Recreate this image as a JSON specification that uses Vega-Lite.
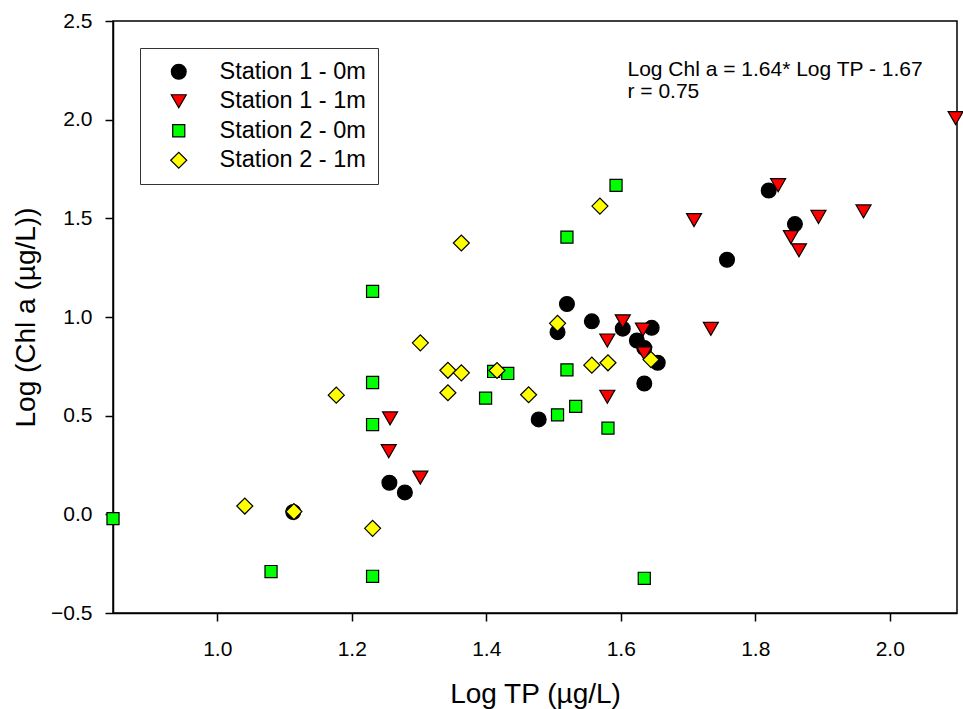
{
  "$schema": "https://vega.github.io/schema/vega-lite/v6.json",
  "width": 844,
  "height": 592,
  "autosize": {"type": "none"},
  "padding": {"left": 113, "top": 21, "right": 6, "bottom": 96},
  "background": "white",
  "config": {
    "font": "Liberation Sans",
    "view": {"stroke": "#000", "strokeWidth": 1.5},
    "axis": {
      "grid": false,
      "domainColor": "#000",
      "domainWidth": 1.5,
      "tickColor": "#000",
      "tickWidth": 1.5,
      "tickSize": 8,
      "labelColor": "#000",
      "titleColor": "#000",
      "labelFont": "Liberation Sans",
      "titleFont": "Liberation Sans",
      "labelFontSize": 21,
      "titleFontSize": 28,
      "titleFontWeight": "normal"
    },
    "legend": {
      "orient": "none",
      "legendX": 27,
      "legendY": 27,
      "padding": 12,
      "strokeColor": "#333",
      "fillColor": "white",
      "labelFont": "Liberation Sans",
      "labelFontSize": 23.5,
      "labelColor": "#000",
      "rowPadding": 4.5,
      "symbolOffset": 15,
      "labelOffset": 29,
      "symbolStrokeColor": "#000",
      "symbolStrokeWidth": 1.2,
      "symbolOpacity": 1
    }
  },
  "datasets": {
    "points": [
      {"station": "Station 1 - 0m", "logTP": 1.256, "logChl": 0.160},
      {"station": "Station 1 - 0m", "logTP": 1.279, "logChl": 0.111},
      {"station": "Station 1 - 0m", "logTP": 1.113, "logChl": 0.012},
      {"station": "Station 1 - 0m", "logTP": 1.478, "logChl": 0.481},
      {"station": "Station 1 - 0m", "logTP": 1.506, "logChl": 0.923},
      {"station": "Station 1 - 0m", "logTP": 1.520, "logChl": 1.066},
      {"station": "Station 1 - 0m", "logTP": 1.557, "logChl": 0.978},
      {"station": "Station 1 - 0m", "logTP": 1.603, "logChl": 0.941},
      {"station": "Station 1 - 0m", "logTP": 1.646, "logChl": 0.945},
      {"station": "Station 1 - 0m", "logTP": 1.624, "logChl": 0.881},
      {"station": "Station 1 - 0m", "logTP": 1.635, "logChl": 0.843},
      {"station": "Station 1 - 0m", "logTP": 1.655, "logChl": 0.768},
      {"station": "Station 1 - 0m", "logTP": 1.635, "logChl": 0.663},
      {"station": "Station 1 - 0m", "logTP": 1.758, "logChl": 1.290},
      {"station": "Station 1 - 0m", "logTP": 1.820, "logChl": 1.641},
      {"station": "Station 1 - 0m", "logTP": 1.859, "logChl": 1.471},
      {"station": "Station 1 - 1m", "logTP": 1.255, "logChl": 0.320},
      {"station": "Station 1 - 1m", "logTP": 1.257, "logChl": 0.486},
      {"station": "Station 1 - 1m", "logTP": 1.302, "logChl": 0.186},
      {"station": "Station 1 - 1m", "logTP": 1.580, "logChl": 0.881},
      {"station": "Station 1 - 1m", "logTP": 1.580, "logChl": 0.596},
      {"station": "Station 1 - 1m", "logTP": 1.603, "logChl": 0.978},
      {"station": "Station 1 - 1m", "logTP": 1.633, "logChl": 0.936},
      {"station": "Station 1 - 1m", "logTP": 1.635, "logChl": 0.815},
      {"station": "Station 1 - 1m", "logTP": 1.709, "logChl": 1.491},
      {"station": "Station 1 - 1m", "logTP": 1.734, "logChl": 0.940},
      {"station": "Station 1 - 1m", "logTP": 1.834, "logChl": 1.668},
      {"station": "Station 1 - 1m", "logTP": 1.853, "logChl": 1.405},
      {"station": "Station 1 - 1m", "logTP": 1.865, "logChl": 1.338},
      {"station": "Station 1 - 1m", "logTP": 1.894, "logChl": 1.507},
      {"station": "Station 1 - 1m", "logTP": 1.961, "logChl": 1.535},
      {"station": "Station 1 - 1m", "logTP": 2.098, "logChl": 2.008},
      {"station": "Station 2 - 0m", "logTP": 0.845, "logChl": -0.022},
      {"station": "Station 2 - 0m", "logTP": 1.080, "logChl": -0.290},
      {"station": "Station 2 - 0m", "logTP": 1.231, "logChl": -0.314},
      {"station": "Station 2 - 0m", "logTP": 1.231, "logChl": 0.455},
      {"station": "Station 2 - 0m", "logTP": 1.231, "logChl": 0.668},
      {"station": "Station 2 - 0m", "logTP": 1.231, "logChl": 1.130},
      {"station": "Station 2 - 0m", "logTP": 1.399, "logChl": 0.589},
      {"station": "Station 2 - 0m", "logTP": 1.411, "logChl": 0.724},
      {"station": "Station 2 - 0m", "logTP": 1.432, "logChl": 0.714},
      {"station": "Station 2 - 0m", "logTP": 1.506, "logChl": 0.504},
      {"station": "Station 2 - 0m", "logTP": 1.520, "logChl": 0.732},
      {"station": "Station 2 - 0m", "logTP": 1.533, "logChl": 0.547},
      {"station": "Station 2 - 0m", "logTP": 1.581, "logChl": 0.437},
      {"station": "Station 2 - 0m", "logTP": 1.520, "logChl": 1.405},
      {"station": "Station 2 - 0m", "logTP": 1.593, "logChl": 1.667},
      {"station": "Station 2 - 0m", "logTP": 1.635, "logChl": -0.324},
      {"station": "Station 2 - 1m", "logTP": 1.041, "logChl": 0.042},
      {"station": "Station 2 - 1m", "logTP": 1.114, "logChl": 0.014},
      {"station": "Station 2 - 1m", "logTP": 1.177, "logChl": 0.604},
      {"station": "Station 2 - 1m", "logTP": 1.231, "logChl": -0.071},
      {"station": "Station 2 - 1m", "logTP": 1.302, "logChl": 0.869},
      {"station": "Station 2 - 1m", "logTP": 1.343, "logChl": 0.730},
      {"station": "Station 2 - 1m", "logTP": 1.363, "logChl": 0.717},
      {"station": "Station 2 - 1m", "logTP": 1.343, "logChl": 0.616},
      {"station": "Station 2 - 1m", "logTP": 1.363, "logChl": 1.375},
      {"station": "Station 2 - 1m", "logTP": 1.416, "logChl": 0.729},
      {"station": "Station 2 - 1m", "logTP": 1.463, "logChl": 0.606},
      {"station": "Station 2 - 1m", "logTP": 1.506, "logChl": 0.968},
      {"station": "Station 2 - 1m", "logTP": 1.557, "logChl": 0.756},
      {"station": "Station 2 - 1m", "logTP": 1.581, "logChl": 0.768},
      {"station": "Station 2 - 1m", "logTP": 1.569, "logChl": 1.562},
      {"station": "Station 2 - 1m", "logTP": 1.645, "logChl": 0.784}
    ],
    "notes": [
      {"label": "Log Chl a = 1.64* Log TP - 1.67", "logTP": 1.61, "logChl": 2.222},
      {"label": "r = 0.75", "logTP": 1.61, "logChl": 2.109}
    ]
  },
  "layer": [
    {
      "data": {"name": "points"},
      "mark": {"type": "point", "filled": true, "stroke": "#000", "strokeWidth": 1.2, "opacity": 1, "clip": false},
      "encoding": {
        "x": {
          "field": "logTP", "type": "quantitative",
          "scale": {"domain": [0.845, 2.1], "nice": false, "zero": false},
          "axis": {"title": "Log TP (µg/L)", "values": [1.0, 1.2, 1.4, 1.6, 1.8, 2.0], "format": ".1f", "labelPadding": 17, "titleBaseline": "alphabetic", "titleY": 89}
        },
        "y": {
          "field": "logChl", "type": "quantitative",
          "scale": {"domain": [-0.5, 2.5], "nice": false, "zero": false},
          "axis": {"title": "Log (Chl a (µg/L))", "values": [-0.5, 0, 0.5, 1.0, 1.5, 2.0, 2.5], "format": ".1f", "labelPadding": 13, "titlePadding": 10}
        },
        "fill": {
          "field": "station", "type": "nominal",
          "scale": {"domain": ["Station 1 - 0m", "Station 1 - 1m", "Station 2 - 0m", "Station 2 - 1m"], "range": ["#000000", "#ff0000", "#00ff00", "#ffff00"]},
          "legend": {
            "title": null,
            "encode": {"symbols": {"update": {"stroke": {"value": "#000"}, "strokeWidth": {"value": 1.2}, "opacity": {"value": 1}}}}
          }
        },
        "shape": {
          "field": "station", "type": "nominal",
          "scale": {"domain": ["Station 1 - 0m", "Station 1 - 1m", "Station 2 - 0m", "Station 2 - 1m"], "range": ["circle", "triangle-down", "square", "diamond"]},
          "legend": {"title": null}
        },
        "size": {
          "field": "station", "type": "nominal",
          "scale": {"type": "ordinal", "domain": ["Station 1 - 0m", "Station 1 - 1m", "Station 2 - 0m", "Station 2 - 1m"], "range": [220, 225, 146, 256]},
          "legend": {"title": null}
        }
      }
    },
    {
      "data": {"name": "notes"},
      "mark": {"type": "text", "align": "left", "baseline": "alphabetic", "fontSize": 21, "font": "Liberation Sans", "color": "#000"},
      "encoding": {
        "x": {"field": "logTP", "type": "quantitative"},
        "y": {"field": "logChl", "type": "quantitative"},
        "text": {"field": "label"}
      }
    }
  ]
}
